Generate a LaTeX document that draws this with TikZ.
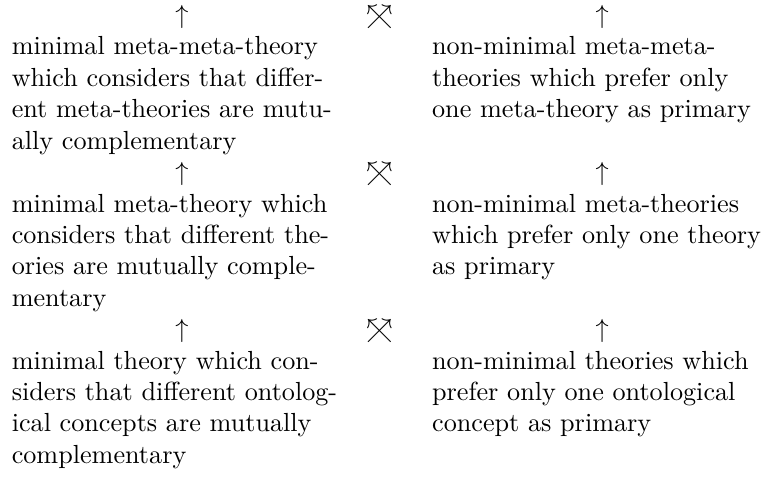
\documentclass[tikz,border=0pt]{standalone}
\usepackage{amsmath, amssymb}
\tikzset{
	theory/.style={anchor=base west, inner sep=0pt, text width=4.6cm, align=left},
	uparr/.style={anchor=base, inner sep=0pt}
}
\newcommand{\crossarr}{\rlap{$\nwarrow$}$\nearrow$}

\begin{document}
\begin{tikzpicture}
	% Arrows and theory texts:
	\useasboundingbox (0, 0) rectangle (10.30, 6.43);
	\node[uparr] (upmml) at (2.443, 6.114){$\uparrow$};
	\node[uparr] (crmm) at (5.097, 6.114){\crossarr};
	\node[uparr] (upmmr) at (8.085, 6.114){$\uparrow$};
	\node[theory] (minmm) at (0.151, 5.692){minimal meta-meta-theory\\ which considers that differ-\\ ent meta-theories are mutu-\\ ally complementary};
	\node[theory] (nonmm) at (5.796, 5.692){non-minimal meta-meta-\\ theories which prefer only\\ one meta-theory as primary};
	\node[uparr] (upml) at (2.443, 4.005){$\uparrow$};
	\node[uparr] (crm) at (5.097, 4.005){\crossarr};
	\node[uparr] (upmr) at (8.085, 4.005){$\uparrow$};
	\node[theory] (minm) at (0.151, 3.583){minimal meta-theory which\\ considers that different the-\\ ories are mutually comple-\\ mentary};
	\node[theory] (nonm) at (5.796, 3.583){non-minimal meta-theories\\ which prefer only one theory\\ as primary};
	\node[uparr] (uptl) at (2.443, 1.896){$\uparrow$};
	\node[uparr] (crt) at (5.097, 1.896){\crossarr};
	\node[uparr] (uptr) at (8.085, 1.896){$\uparrow$};
	\node[theory] (mint) at (0.151, 1.474){minimal theory which con-\\ siders that different ontolog-\\ ical concepts are mutually\\ complementary};
	\node[theory] (nont) at (5.796, 1.474){non-minimal theories which\\ prefer only one ontological\\ concept as primary};
\end{tikzpicture}
\end{document}
